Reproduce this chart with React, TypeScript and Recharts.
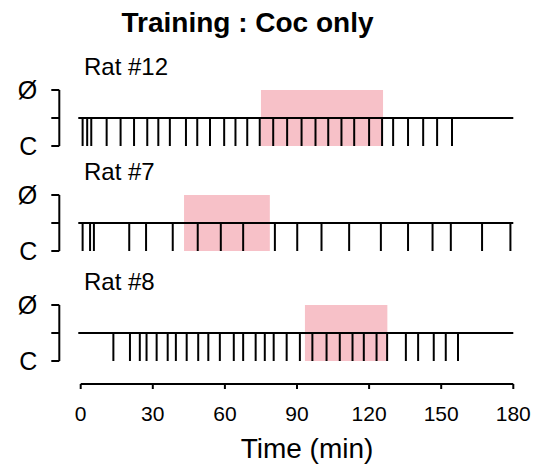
import React from 'react'
import { ComposedChart, XAxis, YAxis, Scatter, ReferenceLine, ReferenceArea } from 'recharts'

// infusion times (min)
const rat12Times = [0.8, 2.7, 4.4, 10.8, 16.6, 22.2, 27.7, 32.3, 37.1, 43.8, 48.5, 53.8, 59.7, 64.4, 69.3, 74.5, 80.1, 85.9, 91.9, 97.7, 103, 108.5, 113.8, 120, 125.4, 130, 136.2, 142.5, 148.3, 154.5]
const rat7Times = [0.8, 3.9, 5.5, 20.2, 27.2, 38.3, 48.7, 58.3, 67.6, 80.8, 90.1, 100.2, 111.7, 124.9, 136.2, 146.4, 154, 167, 178.8]
const rat8Times = [13.6, 20.5, 24.6, 27.4, 31.6, 36.2, 39.6, 44.1, 48.9, 53.1, 57.9, 63.7, 67.6, 72.8, 76.6, 80.3, 85.7, 91.2, 96.4, 102.3, 107.8, 113.1, 117.8, 123.1, 127.5, 135.3, 140.4, 146.9, 151.9, 157]

// shaded windows [start, end] in min
const rat12Window = [75, 125.8]
const rat7Window = [43, 78.7]
const rat8Window = [93.3, 127.6]

const timeTicks = [0, 30, 60, 90, 120, 150, 180]
const stateTicks = [0, 0.5, 1]

const FONT = '"Liberation Sans", Arial, sans-serif'
const PINK = '#f7c1c8'
const W = 542
const PLOT_LEFT = 59.3
const PLOT_RIGHT = 513.3
const PLOT_H = 56

function stateLabel(v: number) {
    if (v === 1) return 'Ø'
    if (v === 0) return 'C'
    return ''
}

function StateTick(props: any) {
    const { x, y, payload } = props
    return (
        <text x={x} y={y} dy="0.36em" textAnchor="end" fontSize={25} fontFamily={FONT} fill="#000">
            {stateLabel(payload.value)}
        </text>
    )
}

interface PanelProps {
    label: string
    times: number[]
    window: number[]
    top: number
}

function RasterPanel({ label, times, window, top }: PanelProps) {
    const data = times.map((t) => ({ t, y: 0.5 }))
    return (
        <div style={{ position: 'absolute', left: 0, top: top - 14 }}>
            <ComposedChart
                width={W}
                height={PLOT_H + 28}
                data={data}
                margin={{ top: 14, right: W - PLOT_RIGHT, left: 0, bottom: 14 }}
            >
                <XAxis dataKey="t" type="number" domain={[-8.9, 180]} allowDataOverflow hide />
                <YAxis
                    dataKey="y"
                    type="number"
                    domain={[0, 1]}
                    allowDataOverflow
                    ticks={stateTicks}
                    interval={0}
                    width={PLOT_LEFT}
                    tickSize={8}
                    tickMargin={14}
                    axisLine={{ stroke: '#000', strokeWidth: 2 }}
                    tickLine={{ stroke: '#000', strokeWidth: 2 }}
                    tick={<StateTick />}
                />
                <ReferenceArea x1={window[0]} x2={window[1]} y1={0} y2={1} fill={PINK} fillOpacity={1} stroke="none" />
                <ReferenceLine segment={[{ x: -1, y: 0.5 }, { x: 180, y: 0.5 }]} stroke="#000" strokeWidth={2} />
                {times.map((t, i) => (
                    <ReferenceLine key={i} segment={[{ x: t, y: 0 }, { x: t, y: 0.5 }]} stroke="#000" strokeWidth={2} />
                ))}
                <Scatter dataKey="y" fill="none" shape={() => <g />} isAnimationActive={false} />
            </ComposedChart>
            <div style={{ position: 'absolute', left: 84, top: -22, fontSize: 24, fontFamily: FONT, lineHeight: '26px', color: '#000' }}>
                {label}
            </div>
        </div>
    )
}

export default function App() {
    return (
        <div style={{ position: 'absolute', left: 0, top: 0, width: W, height: 471, background: '#fff', fontFamily: FONT }}>
            <div style={{ position: 'absolute', left: 0, top: 7, width: 495, textAlign: 'center', fontSize: 28, fontWeight: 'bold', lineHeight: '32px', color: '#000' }}>
                Training : Coc only
            </div>
            <RasterPanel label="Rat #12" times={rat12Times} window={rat12Window} top={90} />
            <RasterPanel label="Rat #7" times={rat7Times} window={rat7Window} top={195} />
            <RasterPanel label="Rat #8" times={rat8Times} window={rat8Window} top={305} />
            <div style={{ position: 'absolute', left: 0, top: 370 }}>
                <ComposedChart
                    width={W}
                    height={100}
                    data={[{ t: 0, y: 0 }, { t: 180, y: 0 }]}
                    margin={{ top: 0, right: W - 513.3, left: 80.7, bottom: 0 }}
                >
                    <XAxis
                        dataKey="t"
                        type="number"
                        domain={[0, 180]}
                        ticks={timeTicks}
                        interval={0}
                        height={86}
                        tickSize={5}
                        tickMargin={17}
                        axisLine={{ stroke: '#000', strokeWidth: 2 }}
                        tickLine={{ stroke: '#000', strokeWidth: 2 }}
                        tick={{ fill: '#000', fontSize: 21, fontFamily: FONT }}
                        label={{ value: 'Time (min)', position: 'insideBottom', offset: 12, dx: 10, fill: '#000', fontSize: 28, fontFamily: FONT }}
                    />
                    <YAxis hide />
                </ComposedChart>
            </div>
        </div>
    )
}
